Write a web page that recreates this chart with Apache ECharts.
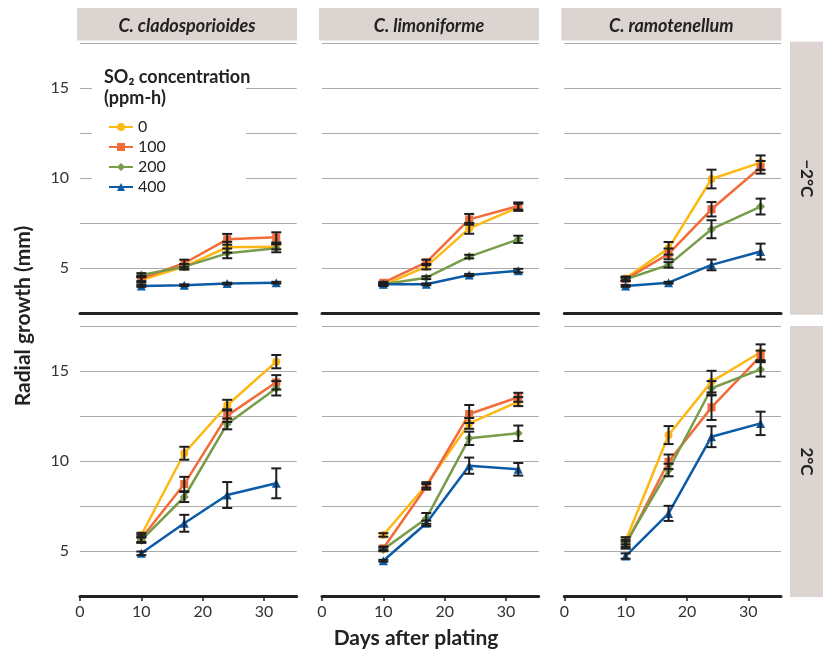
<!DOCTYPE html>
<html><head><meta charset="utf-8">
<script src="https://cdn.jsdelivr.net/npm/echarts@6/dist/echarts.min.js"></script>
<style>html,body{margin:0;padding:0;background:#fff}#c{width:825px;height:651px}</style>
</head><body><div id="c"></div>
<script>
// ---------- data ----------
const days = [10, 17, 24, 32];
const concentrations = ['0', '100', '200', '400'];
const species = ['C. cladosporioides', 'C. limoniforme', 'C. ramotenellum'];
const temperatures = ['\u22122°C', '2°C'];
const xTickValues = [0, 10, 20, 30];
const yTickLabels = [5, 10, 15];

// -2°C row (rows = SO2 0,100,200,400)
const coldClad = [[4.35, 5.09, 6.17, 6.20], [4.44, 5.28, 6.61, 6.72], [4.63, 5.09, 5.83, 6.11], [4.02, 4.06, 4.15, 4.20]];
const coldCladErr = [[0.15, 0.15, 0.30, 0.15], [0.15, 0.20, 0.30, 0.28], [0.10, 0.15, 0.27, 0.22], [0.05, 0.05, 0.05, 0.05]];
const coldLimo = [[4.07, 5.09, 7.22, 8.39], [4.20, 5.33, 7.72, 8.46], [4.11, 4.48, 5.65, 6.61], [4.11, 4.11, 4.63, 4.87]];
const coldLimoErr = [[0.05, 0.15, 0.30, 0.20], [0.05, 0.15, 0.30, 0.20], [0.05, 0.08, 0.10, 0.20], [0.05, 0.05, 0.06, 0.10]];
const coldRamo = [[4.44, 6.11, 9.96, 10.87], [4.39, 5.80, 8.28, 10.61], [4.39, 5.19, 7.17, 8.43], [4.02, 4.20, 5.19, 5.93]];
const coldRamoErr = [[0.10, 0.35, 0.52, 0.40], [0.10, 0.30, 0.40, 0.35], [0.10, 0.15, 0.50, 0.44], [0.05, 0.05, 0.30, 0.44]];
// 2°C row
const warmClad = [[5.89, 10.43, 13.10, 15.52], [5.70, 8.72, 12.52, 14.37], [5.60, 8.00, 12.06, 14.04], [4.87, 6.54, 8.11, 8.76]];
const warmCladErr = [[0.12, 0.36, 0.30, 0.37], [0.20, 0.40, 0.35, 0.40], [0.15, 0.28, 0.30, 0.40], [0.10, 0.47, 0.72, 0.83]];
const warmLimo = [[5.89, 8.67, 12.09, 13.30], [5.15, 8.57, 12.61, 13.54], [5.09, 6.81, 11.26, 11.54], [4.46, 6.54, 9.74, 9.54]];
const warmLimoErr = [[0.10, 0.15, 0.30, 0.25], [0.10, 0.15, 0.50, 0.25], [0.10, 0.30, 0.37, 0.43], [0.05, 0.15, 0.45, 0.35]];
const warmRamo = [[5.57, 11.44, 14.41, 16.04], [5.33, 9.96, 12.98, 15.83], [5.43, 9.50, 14.04, 15.09], [4.72, 7.09, 11.35, 12.09]];
const warmRamoErr = [[0.20, 0.50, 0.60, 0.44], [0.20, 0.40, 0.70, 0.30], [0.20, 0.35, 0.40, 0.40], [0.15, 0.42, 0.58, 0.65]];

const panelValues = [[coldClad, coldLimo, coldRamo], [warmClad, warmLimo, warmRamo]];
const panelErrors = [[coldCladErr, coldLimoErr, coldRamoErr], [warmCladErr, warmLimoErr, warmRamoErr]];

// ---------- style ----------
const FONT = 'Lato, "Open Sans", sans-serif';
const colors = ['#FDB813', '#F26B38', '#789C4A', '#0B5BA6'];
const symbols = ['circle', 'rect', 'diamond', 'triangle'];
const symbolSizes = [8, 8, 9, 9];
const colLefts = [80, 322, 564.3];
const rowTops = [43.3, 326];
const gridW = 216.7, gridH = 270;
const xMax = 35.33;
const stripFill = '#dbd4d0';

const grids = [], xAxes = [], yAxes = [], series = [];
let idx = 0;
function renderErr(params, api) {
  const lo = api.coord([api.value(0), api.value(1)]);
  const hi = api.coord([api.value(0), api.value(2)]);
  const w = 5;
  const st = { stroke: '#1e1e1e', lineWidth: 2 };
  return { type: 'group', children: [
    { type: 'line', shape: { x1: lo[0], y1: lo[1], x2: hi[0], y2: hi[1] }, style: st },
    { type: 'line', shape: { x1: lo[0] - w, y1: lo[1], x2: lo[0] + w, y2: lo[1] }, style: st },
    { type: 'line', shape: { x1: hi[0] - w, y1: hi[1], x2: hi[0] + w, y2: hi[1] }, style: st }
  ] };
}
for (let r = 0; r < 2; r++) {
  for (let c = 0; c < 3; c++) {
    grids.push({ left: colLefts[c], top: rowTops[r], width: gridW, height: gridH });
    xAxes.push({
      gridIndex: idx, type: 'value', min: 0, max: xMax,
      axisLine: { show: true, lineStyle: { color: '#222', width: 3 } },
      axisTick: { show: r === 1, length: 5, lineStyle: { color: '#222', width: 1.5 }, customValues: xTickValues },
      axisLabel: { show: r === 1, customValues: xTickValues, margin: 8, fontSize: 16, color: '#333', fontFamily: FONT,
        formatter: v => (xTickValues.indexOf(v) >= 0 ? String(v) : '') },
      splitLine: { show: false }
    });
    yAxes.push({
      gridIndex: idx, type: 'value', min: 2.5, max: 17.5, interval: 2.5,
      axisLine: { show: false }, axisTick: { show: false },
      axisLabel: { show: c === 0, margin: 11, fontSize: 16, color: '#333', fontFamily: FONT,
        formatter: v => (yTickLabels.indexOf(v) >= 0 ? String(v) : '') },
      splitLine: { show: true, lineStyle: { color: '#ababab', width: 1 } }
    });
    const vals = panelValues[r][c], errs = panelErrors[r][c];
    for (let s = 0; s < 4; s++) {
      series.push({
        type: 'line', name: concentrations[s], xAxisIndex: idx, yAxisIndex: idx,
        data: days.map((d, k) => [d, vals[s][k]]),
        symbol: symbols[s], symbolSize: symbolSizes[s], showSymbol: true,
        itemStyle: { color: colors[s] }, lineStyle: { color: colors[s], width: 2.5 },
        z: 2 + s * 0.01, animation: false
      });
    }
    for (let s = 0; s < 4; s++) {
      series.push({
        type: 'custom', name: 'err', xAxisIndex: idx, yAxisIndex: idx, renderItem: renderErr,
        encode: { x: 0, y: [1, 2] }, z: 5, silent: true, animation: false,
        data: days.map((d, k) => [d, vals[s][k] - errs[s][k], vals[s][k] + errs[s][k]])
      });
    }
    idx++;
  }
}

const graphics = [];
// column headers
for (let c = 0; c < 3; c++) {
  graphics.push({ type: 'rect', z: 1, shape: { x: colLefts[c] - 3, y: 8, width: 220, height: 32.5 }, style: { fill: stripFill } });
  graphics.push({ type: 'text', z: 2, x: colLefts[c] - 3 + 110, y: 26,
    style: { text: species[c], align: 'center', verticalAlign: 'middle', fontSize: 18, fontWeight: 'bold', fontStyle: 'italic', fontFamily: FONT, fill: '#222' } });
}
// row strips
const stripY = [[41.7, 273], [326, 271]];
for (let r = 0; r < 2; r++) {
  graphics.push({ type: 'rect', z: 1, shape: { x: 790, y: stripY[r][0], width: 33, height: stripY[r][1] }, style: { fill: stripFill } });
  graphics.push({ type: 'text', z: 2, x: 806, y: stripY[r][0] + stripY[r][1] / 2, rotation: -Math.PI / 2,
    style: { text: temperatures[r], align: 'center', verticalAlign: 'middle', fontSize: 17, fontWeight: 'bold', fontFamily: FONT, fill: '#222' } });
}
// legend box + title
graphics.push({ type: 'rect', z: 6, shape: { x: 92, y: 60, width: 154, height: 137 }, style: { fill: '#fff' } });
graphics.push({ type: 'text', z: 7, x: 104, y: 67,
  style: { text: 'SO\u2082 concentration\n(ppm-h)', fontSize: 18, fontWeight: 'bold', lineHeight: 21, fontFamily: FONT, fill: '#222' } });
// axis titles
graphics.push({ type: 'text', z: 2, x: 23, y: 316, rotation: Math.PI / 2,
  style: { text: 'Radial growth (mm)', align: 'center', verticalAlign: 'middle', fontSize: 21, fontWeight: 'bold', fontFamily: FONT, fill: '#222' } });
graphics.push({ type: 'text', z: 2, x: 416, y: 638,
  style: { text: 'Days after plating', align: 'center', verticalAlign: 'middle', fontSize: 21, fontWeight: 'bold', fontFamily: FONT, fill: '#222' } });

const chart = echarts.init(document.getElementById('c'), null, { renderer: 'canvas' });
chart.setOption({
  animation: false,
  backgroundColor: '#fff',
  grid: grids, xAxis: xAxes, yAxis: yAxes, series: series,
  legend: {
    data: concentrations, orient: 'vertical', left: 103, top: 114, z: 8,
    itemWidth: 24, itemHeight: 10, itemGap: 4,
    textStyle: { fontSize: 16, color: '#222', fontFamily: FONT },
    selectedMode: false
  },
  graphic: graphics
});
</script></body></html>
